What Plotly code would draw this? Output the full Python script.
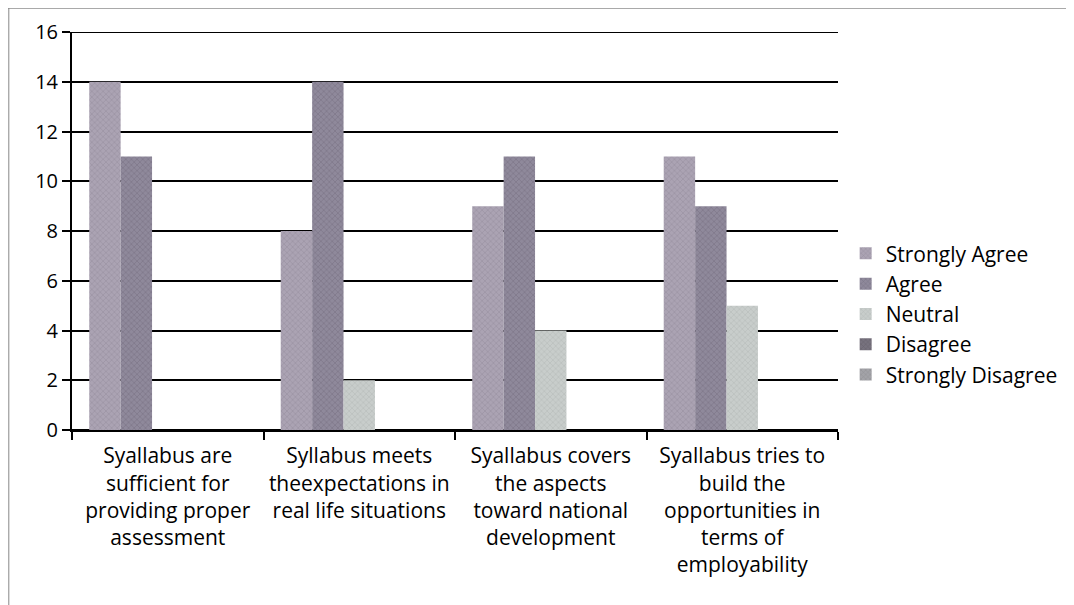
import plotly.graph_objects as go

categories = [
    "Syallabus are<br>sufficient for<br>providing proper<br>assessment",
    "Syllabus meets<br>theexpectations in<br>real life situations",
    "Syallabus covers<br>the aspects<br>toward national<br>development",
    "Syallabus tries to<br>build the<br>opportunities in<br>terms of<br>employability",
]
series_names = ["Strongly Agree", "Agree", "Neutral", "Disagree", "Strongly Disagree"]
strongly_agree = [14, 8, 9, 11]
agree = [11, 14, 11, 9]
neutral = [0, 2, 4, 5]
disagree = [0, 0, 0, 0]
strongly_disagree = [0, 0, 0, 0]
values = [strongly_agree, agree, neutral, disagree, strongly_disagree]
colors = ["#aba3b3", "#8f899b", "#c8cdcb", "#77727e", "#a3a3a8"]
pattern_colors = ["#7d7688", "#5e5868", "#9ea4a3", "#4f4a56", "#77777c"]
y_max = 16

fig = go.Figure()
for name, vals, col, pc in zip(series_names, values, colors, pattern_colors):
    fig.add_trace(go.Bar(
        x=categories, y=vals, name=name,
        marker=dict(color=col, line=dict(width=0),
                    pattern=dict(shape="x", size=4, solidity=0.25,
                                 fgcolor=pc, bgcolor=col)),
    ))

font_family = "Open Sans, sans-serif"
fig.update_layout(
    width=1074, height=605,
    barmode="group", bargap=0.18, bargroupgap=0,
    plot_bgcolor="white", paper_bgcolor="white",
    margin=dict(l=64, r=244, t=24, b=183, autoexpand=False),
    font=dict(family=font_family, size=21, color="black"),
    legend=dict(x=1.01, y=0.291, xanchor="left", yanchor="middle",
                font=dict(size=21), itemwidth=30, tracegroupgap=0),
    xaxis=dict(showline=True, linecolor="black", linewidth=2,
               ticks="outside", tickson="boundaries", ticklen=8,
               tickcolor="black", tickwidth=2, showgrid=False,
               tickfont=dict(size=21), automargin=False,
               ticklabelstandoff=6),
    yaxis=dict(range=[0, y_max], dtick=2, showline=True, linecolor="black",
               linewidth=2, ticks="outside", ticklen=8, tickcolor="black",
               tickwidth=2, showgrid=True, gridcolor="black", gridwidth=2,
               zeroline=True, zerolinecolor="black", zerolinewidth=2,
               tickfont=dict(size=20), automargin=False),
    shapes=[
        dict(type="line", xref="paper", yref="y", x0=0, x1=1,
             y0=y_max, y1=y_max, line=dict(color="black", width=2)),
        dict(type="line", xref="paper", yref="paper", x0=-0.0835, x1=1.31,
             y0=1.0603, y1=1.0603, line=dict(color="#555", width=1)),
        dict(type="line", xref="paper", yref="paper", x0=-0.0825, x1=-0.0825,
             y0=1.0603, y1=-0.46, line=dict(color="#888", width=1)),
    ],
)
fig.write_html("out.html")
